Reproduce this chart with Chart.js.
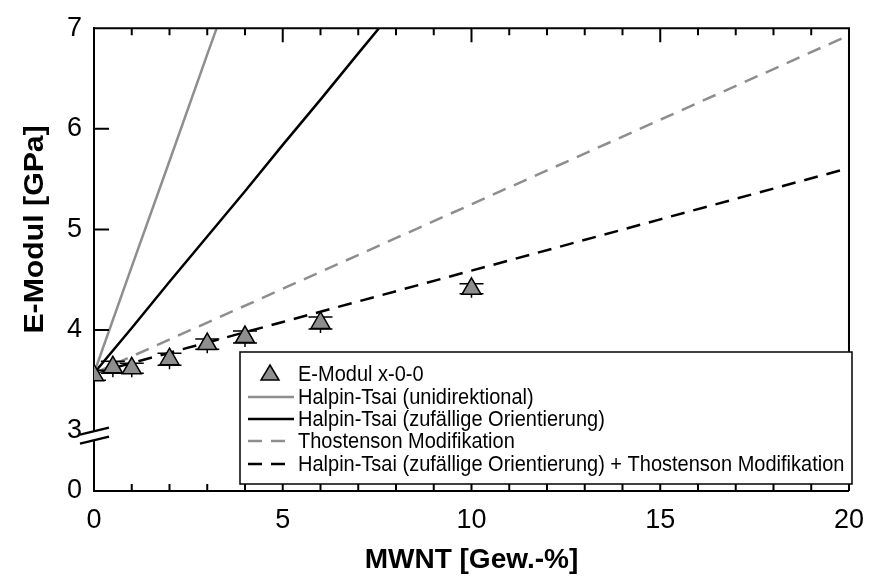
<!DOCTYPE html>
<html>
<head>
<meta charset="utf-8">
<script src="https://cdn.jsdelivr.net/npm/chart.js@4.4.1/dist/chart.umd.min.js"></script>
<style>
  html, body { margin: 0; padding: 0; background: #fff; }
</style>
</head>
<body>
<canvas id="chart" width="877" height="583"></canvas>
<script>
// measured Young's modulus vs. nanotube content
const mwnt = [0, 0.5, 1, 2, 3, 4, 6, 10];
const eModul = [3.55, 3.63, 3.62, 3.71, 3.86, 3.93, 4.07, 4.41];
const eModulErr = [0.05, 0.06, 0.05, 0.06, 0.05, 0.06, 0.06, 0.05];

// model curves
const htUniX = [0, 1, 2, 3, 3.25];
const htUniY = [3.57, 4.63, 5.68, 6.74, 7.0];
const htRandX = [0, 1, 2, 3, 4, 5, 6, 7, 7.55];
const htRandY = [3.57, 4.02, 4.48, 4.93, 5.38, 5.84, 6.29, 6.75, 7.0];
const thostX = [0, 5, 10, 15, 20];
const thostY = [3.57, 4.41, 5.25, 6.09, 6.93];
const htThostX = [0, 5, 10, 15, 20];
const htThostY = [3.57, 4.08, 4.59, 5.10, 5.61];

const xTicks = [0, 5, 10, 15, 20];
const yTicks = [0, 3, 4, 5, 6, 7];

const legendLabels = [
  'E-Modul x-0-0',
  'Halpin-Tsai (unidirektional)',
  'Halpin-Tsai (zufällige Orientierung)',
  'Thostenson Modifikation',
  'Halpin-Tsai (zufällige Orientierung) + Thostenson Modifikation'
];

const FONT = "'Liberation Sans', Arial, sans-serif";
const GREY = '#8e8e8e';

// broken y axis: 0..3 squeezed into a short segment below the break
const BREAK = 3;
const BELOW = 0.6;
function toAxis(v) {
  return v >= BREAK ? v : BREAK - (BREAK - v) / BREAK * BELOW;
}

function pts(xs, ys) {
  return xs.map((x, i) => ({ x: x, y: toAxis(ys[i]) }));
}

function lineSet(label, xs, ys, color, dash) {
  return {
    label: label,
    data: pts(xs, ys),
    showLine: true,
    borderColor: color,
    borderWidth: 2.5,
    borderDash: dash,
    pointRadius: 0,
    fill: false
  };
}

const datasets = [
  {
    label: legendLabels[0],
    data: pts(mwnt, eModul),
    pointStyle: 'triangle',
    pointRadius: 11,
    pointBackgroundColor: GREY,
    pointBorderColor: '#000',
    pointBorderWidth: 1.5,
    showLine: false,
    clip: 0
  },
  lineSet(legendLabels[1], htUniX, htUniY, GREY, []),
  lineSet(legendLabels[2], htRandX, htRandY, '#000', []),
  lineSet(legendLabels[3], thostX, thostY, GREY, [14, 9]),
  lineSet(legendLabels[4], htThostX, htThostY, '#000', [14, 9])
];

// text squeezed sideways a little, like the rest of the figure
function stretchedText(ctx, text, x, y, sy) {
  ctx.save();
  ctx.translate(x, y);
  ctx.scale(1, sy);
  ctx.fillText(text, 0, 0);
  ctx.restore();
}

// error bars go under the triangles but over the curves
const errorBars = {
  id: 'errorBars',
  beforeDatasetDraw(chart, args) {
    if (args.index !== 0) return;
    const { ctx, chartArea: a, scales: { x, y } } = chart;
    ctx.save();
    ctx.beginPath();
    ctx.rect(a.left, a.top, a.right - a.left, a.bottom - a.top);
    ctx.clip();
    ctx.strokeStyle = '#000';
    ctx.lineWidth = 1.5;
    mwnt.forEach((m, i) => {
      const px = x.getPixelForValue(m);
      const top = y.getPixelForValue(toAxis(eModul[i] + eModulErr[i]));
      const bot = y.getPixelForValue(toAxis(eModul[i] - eModulErr[i]));
      ctx.beginPath();
      ctx.moveTo(px, top);
      ctx.lineTo(px, bot + 4);
      ctx.moveTo(px - 12, top);
      ctx.lineTo(px + 12, top);
      ctx.moveTo(px - 12, bot);
      ctx.lineTo(px + 12, bot);
      ctx.stroke();
    });
    ctx.restore();
  }
};

const frame = {
  id: 'frame',
  afterDraw(chart) {
    const { ctx, chartArea: a, scales: { x, y } } = chart;
    ctx.save();
    ctx.strokeStyle = '#000';
    ctx.lineWidth = 2;

    // top and right border
    ctx.beginPath();
    ctx.moveTo(a.left, a.top);
    ctx.lineTo(a.right, a.top);
    ctx.lineTo(a.right, a.bottom);
    ctx.stroke();

    // inward ticks on x (bottom and top)
    ctx.beginPath();
    for (let v = 1; v < 20; v++) {
      const px = x.getPixelForValue(v);
      const len = v % 5 === 0 ? 14 : 7;
      ctx.moveTo(px, a.bottom);
      ctx.lineTo(px, a.bottom - len);
      ctx.moveTo(px, a.top);
      ctx.lineTo(px, a.top + len);
    }
    // inward major ticks on y
    [4, 5, 6].forEach(v => {
      const py = y.getPixelForValue(v);
      ctx.moveTo(a.left, py);
      ctx.lineTo(a.left + 15, py);
    });
    ctx.stroke();

    // axis break marks
    const p3 = y.getPixelForValue(BREAK);
    ctx.fillStyle = '#fff';
    ctx.beginPath();
    ctx.moveTo(a.left - 4, p3 + 2);
    ctx.lineTo(a.left + 4, p3);
    ctx.lineTo(a.left + 4, p3 + 9);
    ctx.lineTo(a.left - 4, p3 + 11);
    ctx.closePath();
    ctx.fill();
    ctx.lineWidth = 2.5;
    ctx.beginPath();
    ctx.moveTo(a.left - 14, p3 + 4);
    ctx.lineTo(a.left + 15, p3 - 3);
    ctx.moveTo(a.left - 14, p3 + 13);
    ctx.lineTo(a.left + 15, p3 + 6);
    ctx.stroke();

    // y axis title, centred on the upper segment
    ctx.fillStyle = '#000';
    ctx.font = 'bold 27px ' + FONT;
    ctx.textAlign = 'center';
    ctx.textBaseline = 'middle';
    ctx.translate(36, (a.top + p3) / 2);
    ctx.rotate(-Math.PI / 2);
    ctx.scale(1.12, 1);
    ctx.fillText('E-Modul [GPa]', 0, 0);
    ctx.restore();

    // legend
    ctx.save();
    const bx = 240, by = 352, bw = 612, bh = 132;
    ctx.fillStyle = '#fff';
    ctx.fillRect(bx, by, bw, bh);
    ctx.strokeStyle = '#000';
    ctx.lineWidth = 1.5;
    ctx.strokeRect(bx, by, bw, bh);
    ctx.font = '20px ' + FONT;
    ctx.textAlign = 'left';
    ctx.textBaseline = 'middle';
    const rows = [374, 397, 419, 441, 464];
    datasets.forEach((ds, i) => {
      const ry = rows[i];
      if (i === 0) {
        ctx.beginPath();
        ctx.moveTo(270, ry - 9);
        ctx.lineTo(279, ry + 6);
        ctx.lineTo(261, ry + 6);
        ctx.closePath();
        ctx.fillStyle = GREY;
        ctx.fill();
        ctx.lineWidth = 1.5;
        ctx.strokeStyle = '#000';
        ctx.stroke();
      } else {
        ctx.beginPath();
        ctx.strokeStyle = ds.borderColor;
        ctx.lineWidth = 2.5;
        ctx.setLineDash(ds.borderDash.length ? [14, 9] : []);
        ctx.moveTo(248, ry);
        ctx.lineTo(294, ry);
        ctx.stroke();
        ctx.setLineDash([]);
      }
      ctx.fillStyle = '#000';
      stretchedText(ctx, ds.label, 298, ry + 1, 1.12);
    });
    ctx.restore();
  }
};

new Chart(document.getElementById('chart').getContext('2d'), {
  type: 'scatter',
  data: { datasets: datasets },
  options: {
    responsive: false,
    animation: false,
    layout: { padding: { top: 21, right: 20, left: 0, bottom: 0 } },
    plugins: {
      legend: { display: false },
      tooltip: { enabled: false }
    },
    scales: {
      x: {
        type: 'linear',
        min: 0,
        max: 20,
        afterFit(s) { s.height = 92; },
        afterBuildTicks(s) { s.ticks = xTicks.map(v => ({ value: v })); },
        ticks: { font: { family: FONT, size: 27 }, color: '#000', padding: 13, maxRotation: 0 },
        grid: { display: true, drawOnChartArea: false, drawTicks: false },
        border: { display: true, color: '#000', width: 2 },
        title: {
          display: true,
          text: 'MWNT [Gew.-%]',
          color: '#000',
          font: { family: FONT, size: 28, weight: 'bold' },
          padding: { top: 4, bottom: 6 }
        }
      },
      y: {
        type: 'linear',
        min: toAxis(0),
        max: 7,
        afterFit(s) { s.width = 94; },
        afterBuildTicks(s) { s.ticks = yTicks.map(v => ({ value: toAxis(v) })); },
        ticks: {
          font: { family: FONT, size: 27 },
          color: '#000',
          padding: 12,
          callback: (val, i) => String(yTicks[i])
        },
        grid: { display: true, drawOnChartArea: false, drawTicks: false },
        border: { display: true, color: '#000', width: 2 }
      }
    }
  },
  plugins: [errorBars, frame]
});
</script>
</body>
</html>
